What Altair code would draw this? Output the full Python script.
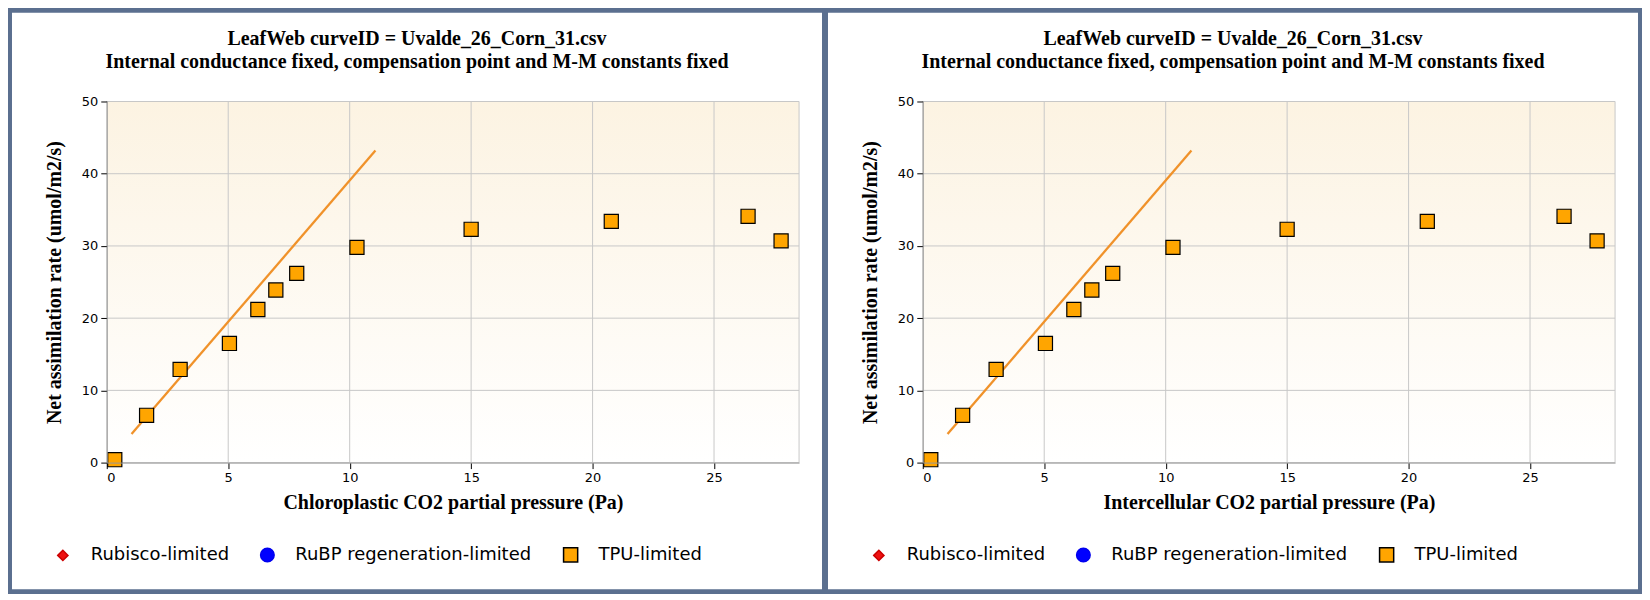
import altair as alt
import pandas as pd

# ---- data ----
ci_x = [0.33, 1.64, 3.02, 5.05, 6.22, 6.96, 7.82, 10.3, 15.0, 20.77, 26.4, 27.76]
an_y = [0.4, 6.55, 12.9, 16.5, 21.2, 23.9, 26.2, 29.8, 32.3, 33.4, 34.1, 30.7]
point_class = ["TPU-limited"] * len(ci_x)
fit_x = [1.02, 11.06]
fit_y = [3.95, 43.2]
x_ticks = [0, 5, 10, 15, 20, 25]
y_ticks = [0, 10, 20, 30, 40, 50]
classes = ["Rubisco-limited", "RuBP regeneration-limited", "TPU-limited"]
class_fill = ["#ee1111", "#0000ff", "#ffa500"]
class_stroke = ["#cc0000", "#0000ee", "#000000"]
class_shape = ["diamond", "circle", "square"]
class_size = [105, 185, 200]
title_1 = "LeafWeb curveID = Uvalde_26_Corn_31.csv"
title_2 = "Internal conductance fixed, compensation point and M-M constants fixed"
x_titles = ["Chloroplastic CO2 partial pressure (Pa)", "Intercellular CO2 partial pressure (Pa)"]
y_title = "Net assimilation rate (umol/m2/s)"

# ---- layout ----
W, H = 694, 362
PL, PR, PT, PB = 95, 23, 89, 127
SERIF = "Liberation Serif"
SANS = "DejaVu Sans"
GRID = "#c8c8c8"


def panel(x_title):
    pts = pd.DataFrame({"x": ci_x, "y": an_y, "limitation": point_class})
    fit = pd.DataFrame({"x": fit_x, "y": fit_y})
    one = pd.DataFrame({"k": [0]})
    xs = alt.Scale(domain=[0, 28.5], nice=False, zero=False)
    ys = alt.Scale(domain=[0, 50], nice=False)
    x_axis = alt.Axis(
        values=x_ticks, grid=False, tickColor="#000", tickSize=6, domainColor="#999",
        labelFont=SANS, labelFontSize=13, labelColor="#000", labelPadding=3,
        title=x_title, titleFont=SERIF, titleFontSize=20, titleFontWeight="bold",
        titleColor="#000", titlePadding=8, zindex=1)
    y_axis = alt.Axis(
        values=y_ticks, grid=False, tickColor="#000", tickSize=6, domainColor="#999",
        labelFont=SANS, labelFontSize=13, labelColor="#000", labelPadding=3,
        title=y_title, titleFont=SERIF, titleFontSize=20, titleFontWeight="bold",
        titleColor="#000", titlePadding=17, zindex=1)
    X = alt.X("x:Q", scale=xs, axis=x_axis)
    Y = alt.Y("y:Q", scale=ys, axis=y_axis)

    panel_bg = alt.Chart(one).mark_rect(fill="white", strokeWidth=0).encode(
        x=alt.value(-PL), x2=alt.value(W + PR), y=alt.value(-PT), y2=alt.value(H + PB))
    grad = alt.LinearGradient(
        gradient="linear",
        stops=[alt.GradientStop(color="#fcf3e2", offset=0),
               alt.GradientStop(color="#ffffff", offset=1)],
        x1=0, x2=0, y1=0, y2=1)
    plot_bg = alt.Chart(one).mark_rect(color=grad, strokeWidth=0).encode(
        x=alt.value(0), x2=alt.value(W), y=alt.value(0), y2=alt.value(H))
    vgrid = alt.Chart(pd.DataFrame({"x": x_ticks[1:]})).mark_rule(color=GRID, strokeWidth=1).encode(
        x=X, y=alt.value(0), y2=alt.value(H))
    hgrid = alt.Chart(pd.DataFrame({"y": y_ticks[1:]})).mark_rule(color=GRID, strokeWidth=1).encode(
        y=Y, x=alt.value(0), x2=alt.value(W))
    frame = alt.Chart(one).mark_rect(fill="transparent", stroke=GRID, strokeWidth=1).encode(
        x=alt.value(0), x2=alt.value(W), y=alt.value(0), y2=alt.value(H))
    line = alt.Chart(fit).mark_line(color="#f0922a", strokeWidth=2.3).encode(x=X, y=Y)

    leg = alt.Legend(title=None, orient="none", legendX=-53, legendY=H + 83,
                     direction="horizontal", labelFont=SANS, labelFontSize=18,
                     labelColor="#000", labelOffset=19, columnPadding=28, padding=0,
                     labelLimit=500)
    points = alt.Chart(pts).mark_point(filled=True, opacity=1, strokeWidth=1.2).encode(
        x=X, y=Y,
        fill=alt.Fill("limitation:N", scale=alt.Scale(domain=classes, range=class_fill), legend=leg),
        stroke=alt.Stroke("limitation:N", scale=alt.Scale(domain=classes, range=class_stroke), legend=leg),
        shape=alt.Shape("limitation:N", scale=alt.Scale(domain=classes, range=class_shape), legend=leg),
        size=alt.Size("limitation:N", scale=alt.Scale(type="ordinal", domain=classes, range=class_size), legend=leg),
    )
    cx = (-PL + W + PR) / 2
    t1 = alt.Chart(one).mark_text(font=SERIF, fontSize=20, fontWeight="bold", color="#000",
                                  align="center", baseline="middle").encode(
        x=alt.value(cx), y=alt.value(-63), text=alt.value(title_1))
    t2 = alt.Chart(one).mark_text(font=SERIF, fontSize=20, fontWeight="bold", color="#000",
                                  align="center", baseline="middle").encode(
        x=alt.value(cx), y=alt.value(-40), text=alt.value(title_2))
    return alt.layer(panel_bg, plot_bg, vgrid, hgrid, frame, line, points, t1, t2).properties(
        width=W, height=H)


chart = alt.hconcat(panel(x_titles[0]), panel(x_titles[1]), spacing=4).resolve_scale(
    fill="independent", stroke="independent", shape="independent", size="independent"
).resolve_legend(
    fill="independent", stroke="independent", shape="independent", size="independent"
).properties(background="#5b6f8f", padding=3).configure_view(stroke="transparent")

chart.save("out.html", embed_options={"renderer": "svg", "actions": False})
